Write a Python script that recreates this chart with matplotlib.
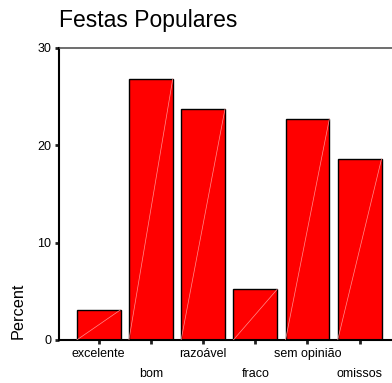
import numpy as np
import matplotlib
matplotlib.use('Agg')
import matplotlib.pyplot as plt

plt.rcParams['font.family'] = ['Liberation Sans', 'DejaVu Sans']

# categories and percentages
categories = ['excelente', 'bom', 'razoável', 'fraco', 'sem opinião', 'omissos']
percent = [3.1, 26.8, 23.7, 5.2, 22.7, 18.6]
y_ticks = [0, 10, 20, 30]

fig = plt.figure(figsize=(3.92, 3.83), dpi=100)
ax = fig.add_axes([59.5 / 392, 1 - 340 / 383, 1 - 59.5 / 392, (340 - 47.7) / 383])

x = np.arange(len(categories))
bar_w = 0.84
ax.bar(x, percent, width=bar_w, color='#ff0000', edgecolor='black', linewidth=1.0, zorder=2)

# thin light diagonal across each bar (bottom-left to top-right)
for xi, v in zip(x, percent):
    ax.plot([xi - bar_w / 2, xi + bar_w / 2], [0, v], color='#ff9090', linewidth=0.5, zorder=3)

ax.set_xlim(-0.75, 5.62)
ax.set_ylim(0, 30)
ax.set_yticks(y_ticks)
ax.set_yticklabels([str(t) for t in y_ticks], fontsize=9)
ax.set_xticks(x)
ax.set_xticklabels(categories, fontsize=9)

ax.tick_params(axis='both', direction='out', length=3, width=2, color='#222222')
ax.tick_params(axis='y', pad=3)
for i, tick in enumerate(ax.xaxis.get_major_ticks()):
    tick.set_pad(2.5 if i % 2 == 0 else 17)

for side in ['left', 'bottom']:
    ax.spines[side].set_color('black')
    ax.spines[side].set_linewidth(1.5)
ax.spines['top'].set_color('#555555')
ax.spines['top'].set_linewidth(1.2)
ax.spines['right'].set_visible(False)

fig.text(59.5 / 392, 1 - 20 / 383, 'Festas Populares', fontsize=16.5, ha='left', va='center')
fig.text(18 / 392, 1 - 311 / 383, 'Percent', fontsize=11.7, rotation=90, ha='center', va='center')

fig.savefig('out.png', dpi=100)
